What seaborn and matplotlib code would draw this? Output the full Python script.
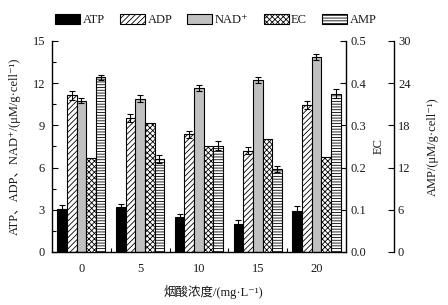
import pandas as pd
import seaborn as sns
import matplotlib.pyplot as plt
from matplotlib.patches import Patch
from matplotlib.ticker import MultipleLocator, FixedLocator, FormatStrFormatter

# 数据
conc = ["0", "5", "10", "15", "20"]
series = ["ATP", "ADP", "NAD⁺", "EC", "AMP"]

atp = [3.05, 3.2, 2.45, 2.0, 2.9]
atp_err = [0.25, 0.22, 0.25, 0.28, 0.33]
adp = [11.15, 9.5, 8.35, 7.2, 10.45]
adp_err = [0.32, 0.3, 0.28, 0.27, 0.27]
nad = [10.75, 10.9, 11.65, 12.2, 13.85]
nad_err = [0.2, 0.24, 0.24, 0.21, 0.24]
ec = [0.222, 0.305, 0.252, 0.267, 0.225]
amp = [24.8, 13.2, 15.1, 11.8, 22.5]
amp_err = [0.4, 0.6, 0.65, 0.47, 0.6]

faces = {"ATP": "black", "ADP": "white", "NAD⁺": "#c0c0c0", "EC": "white", "AMP": "white"}
hatches = {"ATP": None, "ADP": "//////", "NAD⁺": None, "EC": "xxxxxx", "AMP": "------"}

sns.set_style("ticks")
plt.rcParams["font.family"] = ["Liberation Serif", "Noto Sans CJK SC", "DejaVu Serif"]
plt.rcParams["font.size"] = 9
plt.rcParams["hatch.linewidth"] = 0.6
plt.rcParams["hatch.color"] = "black"
plt.rcParams["axes.edgecolor"] = "black"
plt.rcParams["axes.linewidth"] = 1.0
plt.rcParams["text.color"] = "#1a1a1a"
plt.rcParams["axes.labelcolor"] = "#1a1a1a"
plt.rcParams["xtick.color"] = "black"
plt.rcParams["ytick.color"] = "black"
plt.rcParams["xtick.labelcolor"] = "#1a1a1a"
plt.rcParams["ytick.labelcolor"] = "#1a1a1a"

fig = plt.figure(figsize=(4.48, 3.05), dpi=100)
ax = fig.add_axes([0.116, 0.174, 0.656, 0.692])
ax2 = ax.twinx()
ax3 = ax.twinx()


def draw(axis, name, vals, err=None):
    df = pd.DataFrame({"conc": conc, "value": vals, "series": name})
    n0 = len(axis.containers)
    sns.barplot(data=df, x="conc", y="value", hue="series", hue_order=series,
                order=conc, palette=faces, width=0.82, dodge=True,
                errorbar=None, legend=False, ax=axis, edgecolor="black",
                linewidth=0.8, saturation=1)
    bars = [p for c in axis.containers[n0:] for p in c]
    bars.sort(key=lambda p: p.get_x())
    for p in bars:
        p.set_hatch(hatches[name])
    if err is not None:
        xs = [p.get_x() + p.get_width() / 2 for p in bars]
        hs = [p.get_height() for p in bars]
        axis.errorbar(xs, hs, yerr=err, fmt="none", ecolor="black",
                      elinewidth=0.8, capsize=2, capthick=0.8)


draw(ax, "ATP", atp, atp_err)
draw(ax, "ADP", adp, adp_err)
draw(ax, "NAD⁺", nad, nad_err)
draw(ax2, "EC", ec)
draw(ax3, "AMP", amp, amp_err)

# 主轴
ax.set_xlim(-0.5, 4.5)
ax.set_ylim(0, 15)
ax.yaxis.set_major_locator(MultipleLocator(3))
ax.yaxis.set_minor_locator(MultipleLocator(1.5))
ax.tick_params(axis="y", which="major", direction="in", length=4, width=0.8, pad=5)
ax.tick_params(axis="y", which="minor", direction="in", length=3, width=0.8)
ax.xaxis.set_minor_locator(FixedLocator([0.5, 1.5, 2.5, 3.5]))
ax.tick_params(axis="x", which="major", length=0, pad=8)
ax.tick_params(axis="x", which="minor", direction="in", length=3, width=0.8)
ax.spines["top"].set_visible(False)
ax.spines["right"].set_visible(False)
ax.set_ylabel("ATP、ADP、NAD⁺/(μM/g·cell⁻¹)")
ax.yaxis.set_label_coords(-0.105, 0.5)
ax.set_xlabel("烟酸浓度/(mg·L⁻¹)")
ax.xaxis.set_label_coords(0.548, -0.155)

# EC 轴
ax2.set_ylim(0, 0.5)
ax2.yaxis.set_major_locator(MultipleLocator(0.1))
ax2.yaxis.set_major_formatter(FormatStrFormatter("%.1f"))
ax2.tick_params(axis="y", direction="in", length=4, width=0.8, pad=3)
for s in ["top", "left", "bottom"]:
    ax2.spines[s].set_visible(False)
ax2.set_ylabel("EC")
ax2.yaxis.set_label_coords(1.092, 0.5)

# AMP 轴
ax3.set_ylim(0, 30)
ax3.yaxis.set_major_locator(MultipleLocator(6))
ax3.spines["right"].set_position(("outward", 34.5))
ax3.tick_params(axis="y", direction="in", length=4, width=0.8, pad=3)
for s in ["top", "left", "bottom"]:
    ax3.spines[s].set_visible(False)
ax3.set_ylabel("AMP/(μM/g·cell⁻¹)")
ax3.yaxis.set_label_coords(1.276, 0.5)

handles = [Patch(facecolor=faces[s], edgecolor="black", hatch=hatches[s],
                 linewidth=0.8, label=s) for s in series]
fig.legend(handles=handles, loc="center", bbox_to_anchor=(0.482, 0.934),
           ncol=5, frameon=False, handlelength=2.0, handleheight=0.85,
           handletextpad=0.2, columnspacing=1.2, fontsize=9)

fig.savefig("out.png", dpi=100)
